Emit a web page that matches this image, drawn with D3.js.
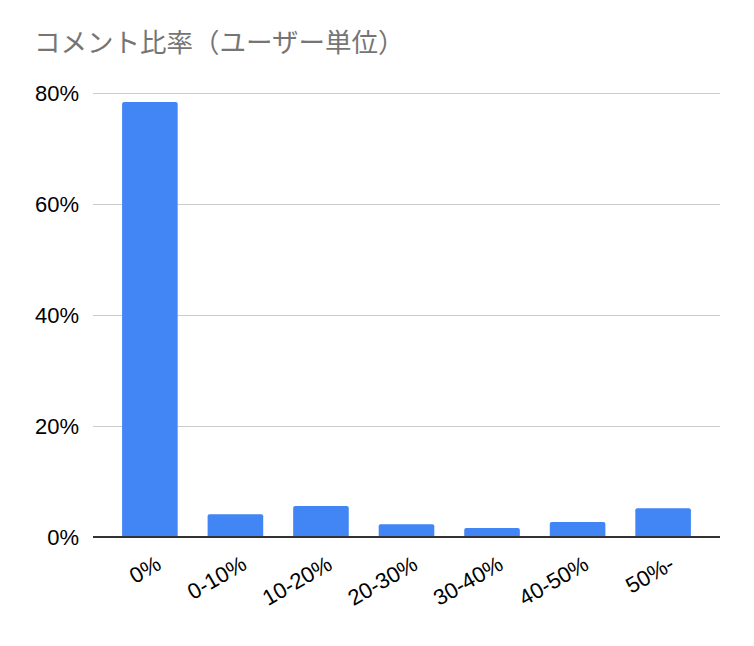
<!DOCTYPE html>
<html>
<head>
<meta charset="utf-8">
<script src="https://cdn.jsdelivr.net/npm/d3@7"></script>
<style>
  body { margin: 0; background: #fff; }
  text { font-family: Arial, "Liberation Sans", sans-serif; }
</style>
</head>
<body>
<svg id="chart" width="754" height="646"></svg>
<script>
// data
let categories = ['0%', '0-10%', '10-20%', '20-30%', '30-40%', '40-50%', '50%-'];
let values = [78.4, 4.1, 5.6, 2.3, 1.6, 2.7, 5.2];
let yTicks = [0, 20, 40, 60, 80];
let title = 'コメント比率（ユーザー単位）';

let svg = d3.select('#chart');

let x = d3.scaleBand()
    .domain(categories)
    .range([93, 720])
    .paddingInner(0.35)
    .paddingOuter(0.34);

let y = d3.scaleLinear()
    .domain([0, 80])
    .range([537, 93]);

// title
svg.append('text')
    .attr('x', 34)
    .attr('y', 52)
    .attr('fill', '#757575')
    .style('font-size', '26.5px')
    .style('font-family', '"Noto Sans CJK JP", sans-serif')
    .text(title);

// grid
svg.append('g')
    .selectAll('line')
    .data(yTicks.filter(d => d > 0))
    .join('line')
    .attr('x1', 93)
    .attr('x2', 720)
    .attr('y1', d => y(d) + 0.5)
    .attr('y2', d => y(d) + 0.5)
    .attr('stroke', '#cccccc')
    .attr('stroke-width', 1);

// y labels
svg.append('g')
    .selectAll('text')
    .data(yTicks)
    .join('text')
    .attr('x', 79)
    .attr('y', d => y(d))
    .attr('dy', '0.35em')
    .attr('text-anchor', 'end')
    .attr('fill', '#000')
    .style('font-size', '22px')
    .text(d => d + '%');

// bars with small rounded tops
let r = 2;
svg.append('g')
    .selectAll('path')
    .data(values)
    .join('path')
    .attr('fill', '#4285F4')
    .attr('d', (d, i) => {
        let x0 = x(categories[i]), w = x.bandwidth();
        let top = y(d), bot = y(0);
        return `M${x0},${bot}V${top + r}Q${x0},${top} ${x0 + r},${top}` +
            `H${x0 + w - r}Q${x0 + w},${top} ${x0 + w},${top + r}V${bot}Z`;
    });

// baseline
svg.append('line')
    .attr('x1', 93)
    .attr('x2', 720)
    .attr('y1', y(0))
    .attr('y2', y(0))
    .attr('stroke', '#333')
    .attr('stroke-width', 2);

// x labels
svg.append('g')
    .selectAll('text')
    .data(categories)
    .join('text')
    .attr('text-anchor', 'end')
    .attr('transform', d => `translate(${x(d) + x.bandwidth() / 2 + 5},${555}) rotate(-30)`)
    .attr('dy', '0.7em')
    .attr('fill', '#000')
    .style('font-size', '22px')
    .text(d => d);
</script>
</body>
</html>
